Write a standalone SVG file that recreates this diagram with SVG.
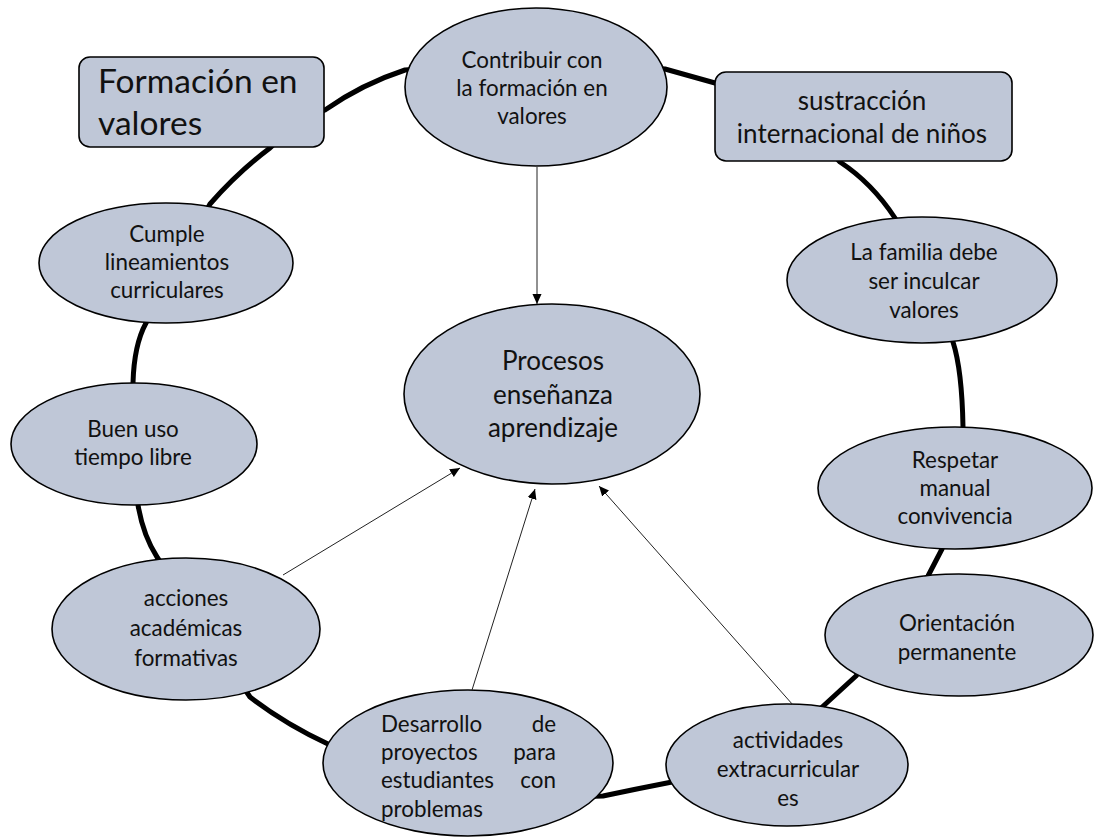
<svg xmlns="http://www.w3.org/2000/svg" width="1094" height="838" viewBox="0 0 1094 838">
<style>
.n{fill:#BFC7D7;stroke:#000;stroke-width:1.6}
.t{font-family:Lato,"Open Sans","Liberation Sans",sans-serif;fill:#111;text-anchor:middle}
.s{font-size:22.4px}
.m{font-size:26px}
.ring{fill:none;stroke:#000;stroke-width:5;stroke-linejoin:round}
.a{stroke:#222;stroke-width:1;fill:none;marker-end:url(#ah)}
</style>
<defs>
<marker id="ah" markerWidth="10" markerHeight="12" refX="11" refY="5" orient="auto" markerUnits="userSpaceOnUse" viewBox="0 0 11 10">
<path d="M0,0 L11,5 L0,10 Z" fill="#000"/>
</marker>
</defs>
<rect width="1094" height="838" fill="#fff"/>
<g id="connectors">
<path class="ring" d="M 325 110 Q 362 84 405 70 L 540 60 L 665 69 L 715 83 L 800 120 L 840 162 Q 872 183 895 218 L 953 342 Q 962 370 963 427 L 942 549 L 928 576 L 856 676 L 820 709 L 672 782 Q 636 789 603 796 L 468 800 L 330 745 Q 285 724 250 697 L 157 557 Q 143 535 138 505 L 133 383 Q 134 345 146 323 L 210 204 Q 238 172 270 148 L 300 120 Z"/>
</g>
<g id="n-formacion"><rect class="n" x="79" y="57" width="245" height="90" rx="11"/>
<text class="t" style="text-anchor:start;font-size:33.5px" x="98" y="93">Formación en</text>
<text class="t" style="text-anchor:start;font-size:33.5px" x="98" y="135">valores</text></g>
<g id="n-contribuir"><ellipse class="n" cx="536" cy="87" rx="131" ry="79"/>
<text class="t s" x="532" y="68">Contribuir con</text>
<text class="t s" x="532" y="96">la formación en</text>
<text class="t s" x="532" y="124">valores</text></g>
<g id="n-sustraccion"><rect class="n" x="715" y="72" width="297" height="89" rx="11"/>
<text class="t m" x="862" y="110">sustracción</text>
<text class="t m" x="862" y="143">internacional de niños</text></g>
<g id="n-familia"><ellipse class="n" cx="922" cy="280" rx="135" ry="63"/>
<text class="t s" x="924" y="260">La familia debe</text>
<text class="t s" x="924" y="289">ser inculcar</text>
<text class="t s" x="924" y="318">valores</text></g>
<g id="n-respetar"><ellipse class="n" cx="955" cy="488" rx="137" ry="61"/>
<text class="t s" x="955" y="468">Respetar</text>
<text class="t s" x="955" y="496">manual</text>
<text class="t s" x="955" y="524">convivencia</text></g>
<g id="n-orientacion"><ellipse class="n" cx="959" cy="635" rx="134" ry="61"/>
<text class="t s" x="957" y="631">Orientación</text>
<text class="t s" x="957" y="660">permanente</text></g>
<g id="n-actividades"><ellipse class="n" cx="787" cy="765" rx="121" ry="61"/>
<text class="t s" x="788" y="748">actividades</text>
<text class="t s" x="788" y="777">extracurricular</text>
<text class="t s" x="788" y="806">es</text></g>
<g id="n-desarrollo"><ellipse class="n" cx="468" cy="763" rx="145" ry="73"/>
<text class="t s" style="text-anchor:start" x="381" y="732">Desarrollo</text>
<text class="t s" style="text-anchor:end" x="556" y="732">de</text>
<text class="t s" style="text-anchor:start" x="381" y="760">proyectos</text>
<text class="t s" style="text-anchor:end" x="556" y="760">para</text>
<text class="t s" style="text-anchor:start" x="381" y="788">estudiantes</text>
<text class="t s" style="text-anchor:end" x="556" y="788">con</text>
<text class="t s" style="text-anchor:start" x="381" y="817">problemas</text></g>
<g id="n-acciones"><ellipse class="n" cx="186" cy="629" rx="134" ry="71"/>
<text class="t s" x="186" y="606">acciones</text>
<text class="t s" x="186" y="636">académicas</text>
<text class="t s" x="186" y="666">formativas</text></g>
<g id="n-buenuso"><ellipse class="n" cx="134" cy="444" rx="123" ry="61"/>
<text class="t s" x="133" y="437">Buen uso</text>
<text class="t s" x="133" y="465">tiempo libre</text></g>
<g id="n-cumple"><ellipse class="n" cx="166" cy="263" rx="127" ry="60"/>
<text class="t s" x="167" y="242">Cumple</text>
<text class="t s" x="167" y="270">lineamientos</text>
<text class="t s" x="167" y="298">curriculares</text></g>
<g id="n-procesos"><ellipse class="n" cx="552" cy="394" rx="148" ry="90"/>
<text class="t m" x="553" y="370">Procesos</text>
<text class="t m" x="553" y="404">enseñanza</text>
<text class="t m" x="553" y="437">aprendizaje</text></g>
<g id="arrows">
<path class="a" d="M537 167 L537 304"/>
<path class="a" d="M283 575 L460 468"/>
<path class="a" d="M472 690 L535 489"/>
<path class="a" d="M793 705 L599 486"/>
</g>
</svg>
